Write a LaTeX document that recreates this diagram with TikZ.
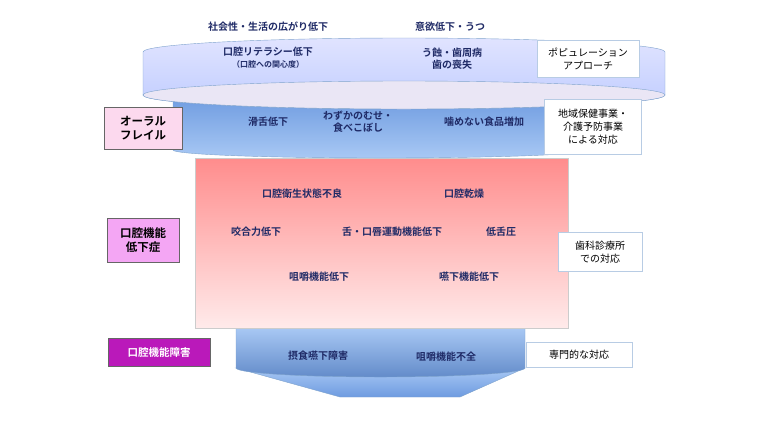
\documentclass[tikz,border=0pt]{standalone}
\usepackage{fontspec}
\setmainfont{Noto Sans CJK JP}[BoldFont={Noto Sans CJK JP Bold}]
\usetikzlibrary{positioning}
\definecolor{txtnavy}{HTML}{1F2A66}
\definecolor{rimblue}{HTML}{7FA3CC}
\definecolor{boxline}{HTML}{B8CCE4}
\definecolor{discblue}{HTML}{6E9BE0}
\definecolor{disclight}{HTML}{A8C8F4}

\begin{document}
\begin{tikzpicture}[x=1pt, y=-1pt,
        item/.style={text=txtnavy, font=\bfseries\fontsize{10}{12}\selectfont, align=center, inner sep=1pt},
        levelbox/.style={draw=gray!80!black, line width=1pt, align=center, font=\bfseries\fontsize{11.5}{14}\selectfont, inner sep=2pt},
        carebox/.style={draw=boxline, fill=white, align=center, font=\fontsize{10}{13}\selectfont, inner sep=2pt}
    ]
    \useasboundingbox (0,0) rectangle (757,421);
    % bottom funnel
    \path[draw=rimblue, top color=disclight, bottom color=discblue] (340,397) -- (460,397) -- (525,368) -- (236,368) -- cycle;
    \path[draw=rimblue, top color=disclight, bottom color=discblue!90!black] (236,328) -- (525,328) -- (525,368) arc[start angle=0, end angle=180, x radius=144.5, y radius=9] -- cycle;
    % pink body
    \path[top color=red!45, bottom color=red!8, draw=gray!40] (195,158) rectangle (568,328);
    % second disc
    \path[draw=rimblue, top color=discblue, bottom color=disclight] (173,95) -- (590,95) -- (590,150) arc[start angle=0, end angle=180, x radius=208.5, y radius=8] -- cycle;
    % top disc
    \path[draw=rimblue, top color=cyan!10!blue!12, bottom color=cyan!20!blue!25] (143,52) arc[start angle=180, end angle=360, x radius=261, y radius=14] -- (665,95) arc[start angle=0, end angle=180, x radius=261, y radius=14] -- cycle;
    \path[draw=rimblue, fill=cyan!8!blue!8] (404,95) ellipse[x radius=261, y radius=14];

    % texts above and on the discs
    \node[item] (social) at (268,27) {社会性・生活の広がり低下};
    \node[item] (motiv) at (450,27) {意欲低下・うつ};
    \node[item] (literacy) at (268,58) {口腔リテラシー低下\\{\fontsize{8}{10}\selectfont （口腔への関心度）}};
    \node[item] (caries) at (452,59) {う蝕・歯周病\\歯の喪失};
    \node[item] (artic) at (268,122) {滑舌低下};
    \node[item] (choke) at (358,122) {わずかのむせ・\\食べこぼし};
    \node[item] (hardfood) at (484,122) {噛めない食品増加};

    % texts in the pink body
    \node[item] (hygiene) at (302,194) {口腔衛生状態不良};
    \node[item] (dry) at (464,194) {口腔乾燥};
    \node[item] (bite) at (256,232) {咬合力低下};
    \node[item] (tongue) at (392,232) {舌・口唇運動機能低下};
    \node[item] (pressure) at (501,232) {低舌圧};
    \node[item] (chewlow) at (319,277) {咀嚼機能低下};
    \node[item] (swallow) at (469,277) {嚥下機能低下};

    % texts in the funnel
    \node[item] (dysph) at (318,356) {摂食嚥下障害};
    \node[item] (chewfail) at (446,357) {咀嚼機能不全};

    % level labels
    \node[levelbox, fill=magenta!15, minimum width=78pt, minimum height=42pt] (frail) at (143,128) {オーラル\\フレイル};
    \node[levelbox, fill=violet!25!magenta!35, minimum width=72pt, minimum height=44pt] (hypo) at (143,240) {口腔機能\\低下症};
    \node[levelbox, fill=violet!60!magenta!90, text=white, minimum width=102pt, minimum height=28pt, font=\bfseries\fontsize{10.5}{12}\selectfont] (disorder) at (159,352) {口腔機能障害};

    % care labels
    \node[carebox, minimum width=102pt, minimum height=37pt] (popul) at (588,59) {ポピュレーション\\アプローチ};
    \node[carebox, minimum width=97pt, minimum height=55pt] (region) at (593,127) {地域保健事業・\\介護予防事業\\による対応};
    \node[carebox, minimum width=84pt, minimum height=39pt] (dental) at (600,252) {歯科診療所\\での対応};
    \node[carebox, minimum width=106pt, minimum height=25pt] (special) at (579,355) {専門的な対応};
\end{tikzpicture}
\end{document}
